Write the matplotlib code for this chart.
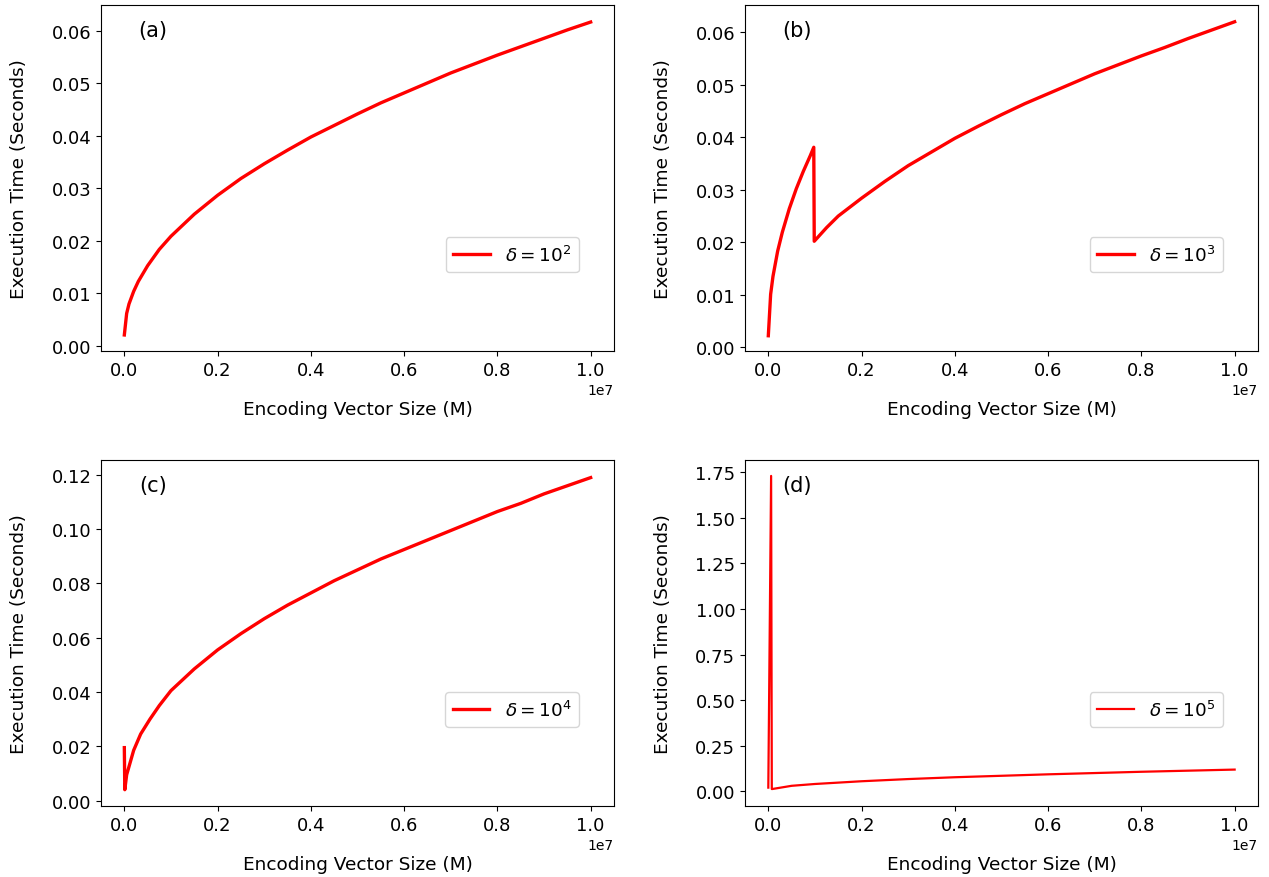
import matplotlib
matplotlib.use("Agg")
import matplotlib.pyplot as plt

# values (x in units of 1e7)
x_a = [0, 0.005, 0.01, 0.02, 0.03, 0.05, 0.075, 0.1, 0.15, 0.2, 0.25, 0.3, 0.35,
       0.4, 0.45, 0.5, 0.55, 0.6, 0.65, 0.7, 0.75, 0.8, 0.85, 0.9, 0.95, 1.0]
t_a = [0.0021, 0.0062, 0.0080, 0.0104, 0.0123, 0.0153, 0.0184, 0.0209, 0.0251,
       0.0287, 0.0319, 0.0347, 0.0373, 0.0398, 0.0420, 0.0442, 0.0463, 0.0482,
       0.0501, 0.0520, 0.0537, 0.0554, 0.0570, 0.0586, 0.0602, 0.0617]

x_b = [0, 0.005, 0.01, 0.02, 0.03, 0.045, 0.06, 0.075, 0.09, 0.0975, 0.0985,
       0.125, 0.15, 0.2, 0.25, 0.3, 0.35, 0.4, 0.45, 0.5, 0.55, 0.6, 0.65, 0.7,
       0.75, 0.8, 0.85, 0.9, 0.95, 1.0]
t_b = [0.0022, 0.0101, 0.0135, 0.0183, 0.0219, 0.0264, 0.0302, 0.0335, 0.0365,
       0.0381, 0.0202, 0.0228, 0.0250, 0.0284, 0.0316, 0.0346, 0.0372, 0.0398,
       0.0421, 0.0443, 0.0464, 0.0483, 0.0502, 0.0521, 0.0538, 0.0555, 0.0571,
       0.0588, 0.0604, 0.0620]

x_c = [0, 0.001, 0.005, 0.01, 0.02, 0.035, 0.055, 0.075, 0.1, 0.15, 0.2, 0.25,
       0.3, 0.35, 0.4, 0.45, 0.5, 0.55, 0.6, 0.65, 0.7, 0.75, 0.8, 0.85, 0.9,
       0.95, 1.0]
t_c = [0.0195, 0.0040, 0.0095, 0.0125, 0.0185, 0.0245, 0.0300, 0.0350, 0.0405,
       0.0485, 0.0555, 0.0615, 0.0670, 0.0720, 0.0765, 0.0810, 0.0850, 0.0890,
       0.0925, 0.0960, 0.0995, 0.1030, 0.1065, 0.1095, 0.1130, 0.1160, 0.1190]

x_d = [0, 0.006, 0.0075, 0.05, 0.1, 0.2, 0.3, 0.4, 0.5, 0.6, 0.7, 0.8, 0.9, 1.0]
t_d = [0.020, 1.730, 0.012, 0.030, 0.040, 0.055, 0.067, 0.077, 0.085, 0.093,
       0.100, 0.107, 0.113, 0.119]

panels = ['(a)', '(b)', '(c)', '(d)']
deltas = [r'$\delta = 10^2$', r'$\delta = 10^3$', r'$\delta = 10^4$', r'$\delta = 10^5$']
ylims = [(-0.00095, 0.06495), (-0.0007, 0.0652), (-0.002, 0.1255), (-0.0806, 1.8175)]

fig, axes = plt.subplots(2, 2, figsize=(12.69, 8.78), dpi=100)
fig.subplots_adjust(left=0.0796, right=0.9913, top=0.9932, bottom=0.0809,
                    wspace=0.2554, hspace=0.315)

series = [(x_a, t_a), (x_b, t_b), (x_c, t_c), (x_d, t_d)]
for i, ax in enumerate(axes.flat):
    xs, ts = series[i]
    xs = [v * 1e7 for v in xs]
    lw = 1.6 if i == 3 else 2.4
    ax.plot(xs, ts, color='red', lw=lw, label=deltas[i])
    ax.set_xlim(-0.05e7, 1.05e7)
    ax.set_ylim(*ylims[i])
    ax.set_xticks([0, 0.2e7, 0.4e7, 0.6e7, 0.8e7, 1.0e7])
    ax.tick_params(labelsize=13)
    ax.xaxis.get_offset_text().set_fontsize(10)
    ax.set_xlabel('Encoding Vector Size (M)', fontsize=13.3, labelpad=15)
    ax.set_ylabel('Execution Time (Seconds)', fontsize=13.3, labelpad=17)
    ax.text(0.101, 0.928, panels[i], transform=ax.transAxes, fontsize=15,
            ha='center', va='center')
    ax.legend(loc='center right', bbox_to_anchor=(0.932, 0.278),
              borderaxespad=0, fontsize=13.2, handletextpad=0.85)

fig.savefig('out.png', dpi=100)
